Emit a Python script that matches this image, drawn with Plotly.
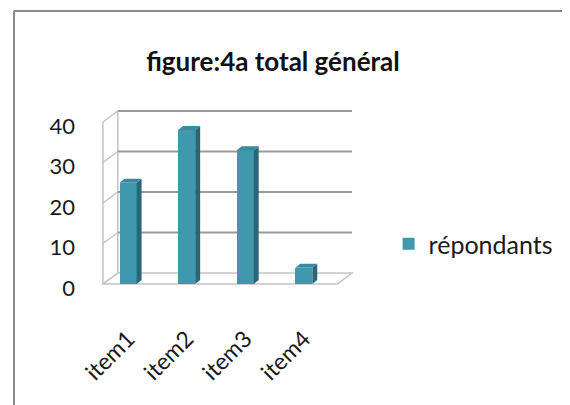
import plotly.graph_objects as go

# ---- data ----
categories = ["item1", "item2", "item3", "item4"]
values = [25, 38, 33, 4]
series_name = "répondants"
y_ticks = [0, 10, 20, 30, 40]
title_text = "figure:4a total général"

# ---- layout geometry (page pixels; the page body adds an 8px offset) ----
OFF = 8
W, H = 570 - OFF, 405 - OFF
PL, PR, PT, PB = 100 - OFF, 357 - OFF, 109 - OFF, 287 - OFF   # plot area box (figure px)
X_FRONT_LEFT_PX = 103 - OFF
X_PER_UNIT = 59.25
Y_ZERO_PX, Y_PER_UNIT = 284 - OFF, 4.05
DEPTH_DX_PX, DEPTH_DY_PX = 15, 11              # wall depth
BAR_DX_PX, BAR_DY_PX = 5, 4                    # bar depth
BAR_W = 0.29

x_left = -0.43 - (X_FRONT_LEFT_PX - PL) / X_PER_UNIT
x_right = x_left + (PR - PL) / X_PER_UNIT
y_bot = -(PB - Y_ZERO_PX) / Y_PER_UNIT
y_top = (Y_ZERO_PX - PT) / Y_PER_UNIT

x0 = -0.43
x1 = x0 + len(categories)
dx = DEPTH_DX_PX / X_PER_UNIT
dy = DEPTH_DY_PX / Y_PER_UNIT
bdx = BAR_DX_PX / X_PER_UNIT
bdy = BAR_DY_PX / Y_PER_UNIT
ymax = max(y_ticks)

FRONT = "rgb(64,152,175)"
SIDE = "rgb(41,103,120)"
TOP = "rgb(55,139,161)"
GRID = "#9a9a9a"
EDGE = "#c4c4c4"
FONT = "Lato"

xs = list(range(len(categories)))

fig = go.Figure()

# front faces
fig.add_trace(go.Bar(x=xs, y=values, width=BAR_W, marker=dict(color=FRONT, line=dict(width=0)),
                     name=series_name, showlegend=True))

# side faces and top faces built from the values
sx, sy, tx, ty = [], [], [], []
for xi, v in zip(xs, values):
    r = xi + BAR_W / 2
    l = xi - BAR_W / 2
    sx += [r, r, r + bdx, r + bdx, r, None]
    sy += [0, v, v + bdy, bdy, 0, None]
    tx += [l, r, r + bdx, l + bdx, l, None]
    ty += [v, v, v + bdy, v + bdy, v, None]
fig.add_trace(go.Scatter(x=sx, y=sy, fill="toself", fillcolor=SIDE, mode="lines",
                         line=dict(width=0, color=SIDE), showlegend=False, hoverinfo="skip"))
fig.add_trace(go.Scatter(x=tx, y=ty, fill="toself", fillcolor=TOP, mode="lines",
                         line=dict(width=0, color=TOP), showlegend=False, hoverinfo="skip"))

shapes = []
# floor
shapes.append(dict(type="path", xref="x", yref="y", layer="below",
                   path=f"M{x0},0 L{x1},0 L{x1+dx},{dy} L{x0+dx},{dy} Z",
                   fillcolor="white", line=dict(color=EDGE, width=1.5)))
# left wall edges
shapes.append(dict(type="line", xref="x", yref="y", layer="below",
                   x0=x0, y0=0, x1=x0, y1=ymax, line=dict(color=EDGE, width=1.5)))
shapes.append(dict(type="line", xref="x", yref="y", layer="below",
                   x0=x0 + dx, y0=dy, x1=x0 + dx, y1=ymax + dy, line=dict(color=EDGE, width=1.5)))
for t in y_ticks:
    shapes.append(dict(type="line", xref="x", yref="y", layer="below",
                       x0=x0, y0=t, x1=x0 + dx, y1=t + dy, line=dict(color=EDGE, width=1.5)))
    if t > 0:
        shapes.append(dict(type="line", xref="x", yref="y", layer="below",
                           x0=x0 + dx, y0=t + dy, x1=x1 + dx, y1=t + dy,
                           line=dict(color=GRID, width=2)))

# outer border (left and top only), given in page pixels
def px_x(p):
    return (p - OFF - PL) / (PR - PL)

def px_y(p):
    return (PB - (p - OFF)) / (PB - PT)

shapes.append(dict(type="line", xref="paper", yref="paper", x0=px_x(13), y0=px_y(11),
                   x1=px_x(580), y1=px_y(11), line=dict(color="#8a8a8a", width=2)))
shapes.append(dict(type="line", xref="paper", yref="paper", x0=px_x(13), y0=px_y(11),
                   x1=px_x(13), y1=px_y(420), line=dict(color="#8a8a8a", width=2)))

fig.update_layout(
    width=W, height=H,
    margin=dict(l=PL, r=W - PR, t=PT, b=H - PB, pad=0),
    paper_bgcolor="white", plot_bgcolor="rgba(0,0,0,0)",
    font=dict(family=FONT, color="#1a1a1a"),
    title=dict(text=title_text, x=(273 - OFF) / W, xref="container", xanchor="center",
               y=1 - (62 - OFF) / H, yref="container", yanchor="middle",
               font=dict(family=FONT, size=26, color="#111111", weight="bold")),
    xaxis=dict(range=[x_left, x_right], tickvals=xs, ticktext=categories, tickangle=-45,
               showgrid=False, zeroline=False, showline=False, ticks="",
               tickfont=dict(size=23), ticklabelstandoff=33),
    yaxis=dict(range=[y_bot, y_top], tickvals=y_ticks, showgrid=False, zeroline=False,
               showline=False, ticks="", tickfont=dict(size=22), ticklabelstandoff=24,
               ticklabelshift=4),
    legend=dict(x=px_x(392), xanchor="left", y=px_y(244), yanchor="middle",
                font=dict(size=25), bgcolor="rgba(0,0,0,0)"),
    shapes=shapes,
    showlegend=True,
    bargap=0,
)

fig.write_html("out.html")
